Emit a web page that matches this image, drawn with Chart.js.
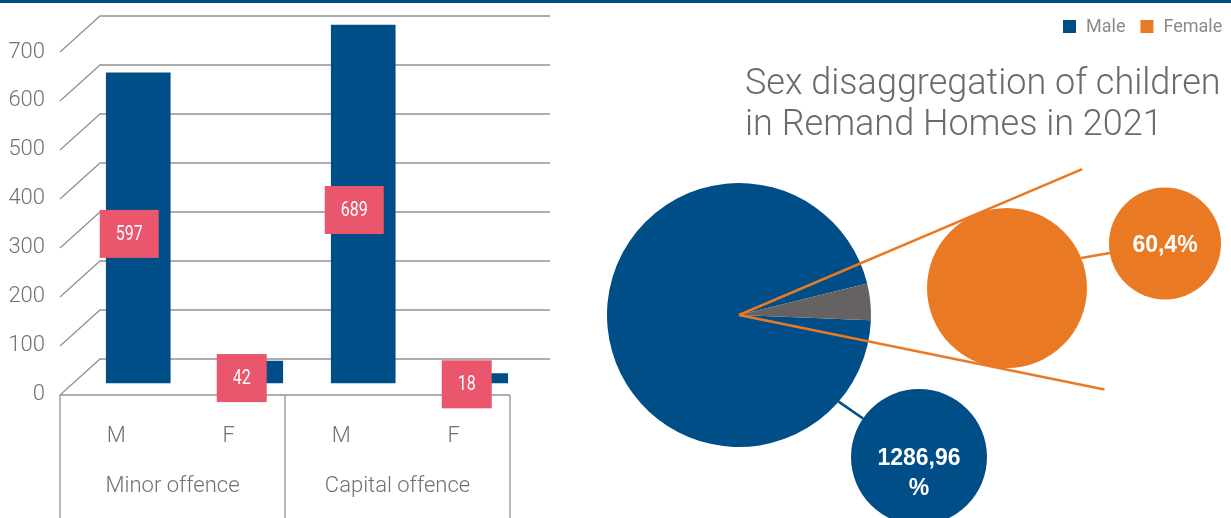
<!DOCTYPE html>
<html>
<head>
<meta charset="utf-8">
<script src="https://cdn.jsdelivr.net/npm/chart.js@4.4.1/dist/chart.umd.min.js"></script>
<style>
  html, body { margin: 0; padding: 0; background: #fff; }
  #page { position: relative; width: 1231px; height: 518px; overflow: hidden; background: #fff; }
  #rule { position: absolute; left: 0; top: 0; width: 1231px; height: 3px; background: #004e87; }
  canvas { position: absolute; }
  #bars { left: 0; top: 0; }
  #pie { left: 600px; top: 0; }
</style>
</head>
<body>
<div id="page">
  <canvas id="bars" width="600" height="518"></canvas>
  <canvas id="pie" width="631" height="518"></canvas>
  <canvas id="pie2" width="160" height="160"></canvas>
  <div id="rule"></div>
</div>
<script>
// ---- data ----
const categories = ['M', 'F', 'M', 'F'];
const offenceGroups = ['Minor offence', 'Capital offence'];
const counts = [597, 42, 689, 18];
const yTickValues = [0, 100, 200, 300, 400, 500, 600, 700];
const sexes = ['Male', 'Female'];
const titleLines = ['Sex disaggregation of children', 'in Remand Homes in 2021'];

// children per sex, summed over both offence types
const sexTotals = sexes.map(s =>
  counts.reduce((sum, v, i) => sum + (categories[i] === s[0] ? v : 0), 0));

// ---- palette ----
const BLUE = '#004e87';
const ORANGE = '#e97a23';
const GREY = '#666261';
const PINK = '#ea566b';
const AXIS_TEXT = '#717171';
const GRID = '#939393';
const SANS = 'Roboto, "Liberation Sans", sans-serif';

// ---- 3-D style column chart ----
const DEPTH_X = 40, DEPTH_Y = 36;   // offset of the back wall from the front edge
const BAR_SHIFT = 22;               // bars stand this far behind the front edge

const wallPlugin = {
  id: 'wall',
  beforeDatasetsDraw(chart) {
    const { ctx, chartArea: a } = chart;
    const yGrid = chart.scales.yGrid, x2 = chart.scales.x2;
    const frontL = a.left - BAR_SHIFT, frontR = a.right - BAR_SHIFT;
    const backL = frontL + DEPTH_X, backR = frontR + DEPTH_X;
    ctx.save();
    ctx.strokeStyle = GRID;
    ctx.lineWidth = 1.3;
    yGrid.ticks.forEach(t => {
      const yb = yGrid.getPixelForValue(t.value);
      ctx.beginPath();
      ctx.moveTo(frontL, yb + DEPTH_Y);
      ctx.lineTo(backL, yb);
      ctx.lineTo(backR, yb);
      ctx.stroke();
    });
    // floor edge and category group dividers
    const yf = yGrid.getPixelForValue(0) + DEPTH_Y;
    ctx.beginPath();
    ctx.moveTo(frontL, yf);
    ctx.lineTo(frontR, yf);
    ctx.stroke();
    const mid = (x2.getPixelForValue(0) + x2.getPixelForValue(1)) / 2 - BAR_SHIFT;
    [frontL, mid, frontR].forEach(px => {
      ctx.beginPath();
      ctx.moveTo(px, yf);
      ctx.lineTo(px, chart.height);
      ctx.stroke();
    });
    ctx.restore();
  }
};

const valueBoxPlugin = {
  id: 'valueBoxes',
  afterDatasetsDraw(chart) {
    const { ctx } = chart;
    const ds = chart.data.datasets[0];
    const squeeze = 0.8;   // narrow figures inside the boxes
    ctx.save();
    ctx.font = '20px "Liberation Sans Narrow", Roboto, sans-serif';
    ctx.textAlign = 'center';
    ctx.textBaseline = 'middle';
    chart.getDatasetMeta(0).data.forEach((bar, i) => {
      const text = String(ds.data[i]);
      const w = ctx.measureText(text).width * squeeze + 32, h = 48;
      const cx = bar.x - 9, cy = (bar.y + bar.base) / 2 + 6;
      ctx.fillStyle = PINK;
      ctx.fillRect(cx - w / 2, cy - h / 2, w, h);
      ctx.save();
      ctx.translate(cx, cy + 1);
      ctx.scale(squeeze, 1);
      ctx.fillStyle = '#ffffff';
      ctx.fillText(text, 0, 0);
      ctx.restore();
    });
    ctx.restore();
  }
};

new Chart(document.getElementById('bars'), {
  type: 'bar',
  data: {
    labels: categories,
    datasets: [{
      data: counts,
      backgroundColor: BLUE,
      barThickness: 64,
      xAxisID: 'x',
      yAxisID: 'y'
    }]
  },
  options: {
    responsive: false,
    animation: false,
    layout: { padding: { top: 16, right: 68, left: 0, bottom: 0 } },
    scales: {
      x: {
        type: 'category', position: 'bottom', offset: true,
        grid: { display: false, drawTicks: false }, border: { display: false },
        ticks: { labelOffset: -BAR_SHIFT, padding: 28, color: AXIS_TEXT, font: { family: SANS, size: 22, weight: 300 } },
        afterFit: s => { s.height = 55; s.paddingLeft = 0; s.paddingRight = 0; }
      },
      x2: {
        type: 'category', labels: offenceGroups, position: 'bottom', offset: true,
        grid: { display: false, drawTicks: false }, border: { display: false },
        ticks: { labelOffset: -BAR_SHIFT, padding: 23, color: AXIS_TEXT, font: { family: SANS, size: 22, weight: 300 } },
        afterFit: s => { s.height = 68; s.paddingLeft = 0; s.paddingRight = 0; }
      },
      y: { type: 'linear', display: false, min: -23.1, max: 706.3 },
      yGrid: {
        type: 'linear', position: 'left', min: -73.5, max: 700,
        afterBuildTicks: s => { s.ticks = yTickValues.map(v => ({ value: v })); },
        grid: { display: false, drawTicks: false }, border: { display: false },
        ticks: { labelOffset: DEPTH_Y, padding: 37, color: AXIS_TEXT, font: { family: SANS, size: 22, weight: 300 } },
        afterFit: s => { s.width = 82; s.paddingTop = 0; s.paddingBottom = 0; }
      }
    },
    plugins: { legend: { display: false }, tooltip: { enabled: false } }
  },
  plugins: [wallPlugin, valueBoxPlugin]
});

// ---- pie of pie ----
const PIE_W = 631, PIE_H = 518;
const PIE = { cx: 139, cy: 315, r: 132 };   // primary pie
const SUB = { cx: 407, cy: 288, r: 80 };    // secondary pie (breakdown of the small slice)
const total = sexTotals[0] + sexTotals[1];
const toSub = Math.atan2(SUB.cy - PIE.cy, SUB.cx - PIE.cx);
const femaleSpan = sexTotals[1] / total * 360;
const maleSpan = 360 - femaleSpan;
// start the Male arc so that the Female slice points at the secondary pie
const pieRotation = (toSub * 180 / Math.PI - femaleSpan / 2) + 90 - maleSpan;

const labelBubbles = [
  { index: 0, cx: 319, cy: 457, r: 68, color: BLUE, from: PIE, angle: 41 },
  { index: 1, cx: 565, cy: 243.5, r: 56, color: ORANGE, from: SUB, angle: -22 }
];

function bubbleLines(ctx, index, maxWidth) {
  const v = sexTotals[index];
  const pct = Math.round(v / total * 100);
  const full = `${v},${pct}%`;
  if (ctx.measureText(full).width <= maxWidth) return [full];
  return [`${v},${pct}`, '%'];
}

const pieDecorPlugin = {
  id: 'pieDecor',
  afterDatasetsDraw(chart) {
    const { ctx } = chart;
    const arc = chart.getDatasetMeta(0).data[0];
    const cx = arc.x, cy = arc.y;
    ctx.save();
    // series lines towards the secondary pie
    const d = Math.hypot(SUB.cx - cx, SUB.cy - cy);
    const half = Math.asin(SUB.r / d);
    const len = Math.sqrt(d * d - SUB.r * SUB.r) * 1.45;
    ctx.strokeStyle = ORANGE;
    ctx.lineWidth = 2.5;
    [-1, 1].forEach(s => {
      const a = toSub + s * half;
      ctx.beginPath();
      ctx.moveTo(cx, cy);
      ctx.lineTo(cx + len * Math.cos(a), cy + len * Math.sin(a));
      ctx.stroke();
    });
    // data label bubbles with leader lines
    labelBubbles.forEach(b => {
      const a = b.angle * Math.PI / 180;
      const sx = b.from.cx + b.from.r * Math.cos(a), sy = b.from.cy + b.from.r * Math.sin(a);
      const da = Math.atan2(b.cy - sy, b.cx - sx);
      ctx.strokeStyle = b.color;
      ctx.lineWidth = 2.5;
      ctx.beginPath();
      ctx.moveTo(sx, sy);
      ctx.lineTo(b.cx - b.r * Math.cos(da), b.cy - b.r * Math.sin(da));
      ctx.stroke();
      ctx.fillStyle = b.color;
      ctx.beginPath();
      ctx.arc(b.cx, b.cy, b.r, 0, Math.PI * 2);
      ctx.fill();
      ctx.font = 'bold 23px "Liberation Sans", Arial, sans-serif';
      ctx.fillStyle = '#ffffff';
      ctx.textAlign = 'center';
      ctx.textBaseline = 'middle';
      const lines = bubbleLines(ctx, b.index, 2 * b.r - 40);
      lines.forEach((t, i) => ctx.fillText(t, b.cx, b.cy + 2 + i * 30));
    });
    ctx.restore();
  },
  afterDraw(chart) {
    const { ctx } = chart;
    ctx.save();
    // legend
    const legendColors = [BLUE, ORANGE];
    ctx.font = `18px ${SANS}`;
    ctx.textBaseline = 'middle';
    ctx.textAlign = 'left';
    let x = 463;
    sexes.forEach((name, i) => {
      ctx.fillStyle = legendColors[i];
      ctx.fillRect(x, 20, 13, 13);
      x += 23;
      ctx.fillStyle = '#8a8a8a';
      ctx.fillText(name, x, 27);
      x += ctx.measureText(name).width + 15;
    });
    // title
    let size = 36;
    ctx.font = `300 ${size}px ${SANS}`;
    const w = ctx.measureText(titleLines[0]).width;
    size = Math.min(36, size * 480 / w);
    ctx.font = `300 ${size}px ${SANS}`;
    ctx.fillStyle = '#6b6b6b';
    ctx.textBaseline = 'alphabetic';
    ctx.fillText(titleLines[0], 145, 94);
    ctx.fillText(titleLines[1], 145, 135);
    ctx.restore();
  }
};

new Chart(document.getElementById('pie'), {
  type: 'pie',
  data: {
    labels: sexes,
    datasets: [{
      data: sexTotals,
      backgroundColor: [BLUE, GREY],
      borderWidth: 0
    }]
  },
  options: {
    responsive: false,
    animation: false,
    rotation: pieRotation,
    layout: {
      padding: {
        left: PIE.cx - PIE.r,
        top: PIE.cy - PIE.r,
        right: PIE_W - (PIE.cx + PIE.r),
        bottom: PIE_H - (PIE.cy + PIE.r)
      }
    },
    plugins: { legend: { display: false }, tooltip: { enabled: false } }
  },
  plugins: [pieDecorPlugin]
});

// secondary pie: the Female share shown as its own pie
const subCanvas = document.getElementById('pie2');
subCanvas.style.left = (600 + SUB.cx - SUB.r) + 'px';
subCanvas.style.top = (SUB.cy - SUB.r) + 'px';
new Chart(subCanvas, {
  type: 'pie',
  data: {
    labels: [sexes[1]],
    datasets: [{ data: [sexTotals[1]], backgroundColor: [ORANGE], borderWidth: 0 }]
  },
  options: {
    responsive: false,
    animation: false,
    layout: { padding: 0 },
    plugins: { legend: { display: false }, tooltip: { enabled: false } }
  }
});
</script>
</body>
</html>
